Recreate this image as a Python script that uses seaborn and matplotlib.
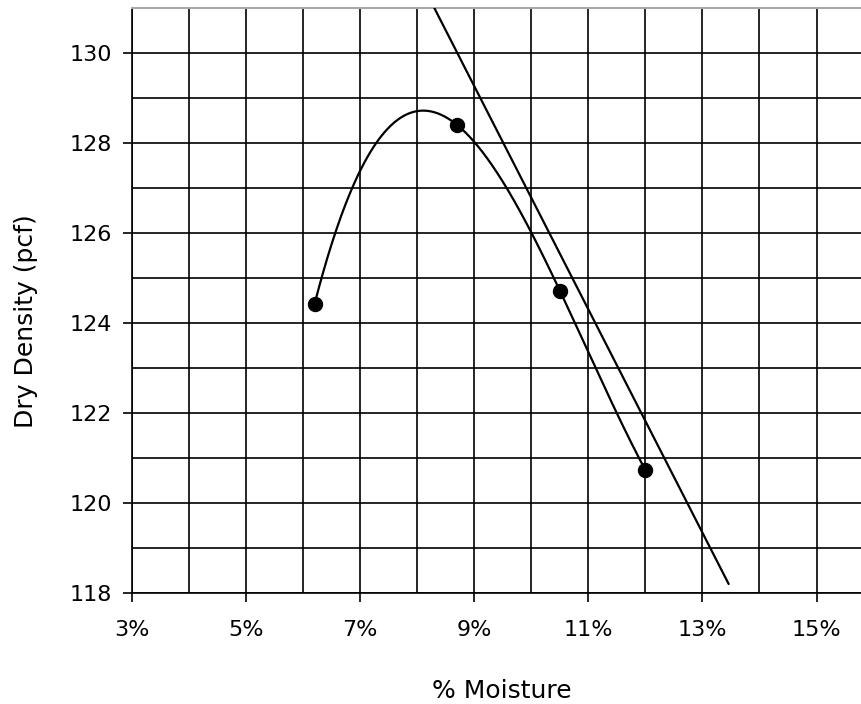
import numpy as np
import pandas as pd
import matplotlib
matplotlib.use("Agg")
import matplotlib.pyplot as plt
import seaborn as sns
from matplotlib.ticker import MultipleLocator, FuncFormatter

# Plot style
sns.set_style("white")
plt.rcParams['font.family'] = ['DejaVu Sans']
plt.rcParams['text.color'] = 'black'
plt.rcParams['axes.labelcolor'] = 'black'
plt.rcParams['xtick.color'] = 'black'
plt.rcParams['ytick.color'] = 'black'

# Compaction test points (% moisture vs dry density)
moisture = [6.2, 8.7, 10.5, 12.0]
dry_density = [124.42, 128.4, 124.72, 120.73]

# Zero air voids line end points
zav_moisture = [8.3, 13.46]
zav_density = [131.0, 118.2]

# 3rd order trendline through the test points
coef = np.polyfit(moisture, dry_density, 3)
fit_x = np.linspace(min(moisture), max(moisture), 300)
fit = pd.DataFrame({'moisture': fit_x, 'density': np.polyval(coef, fit_x)})

fig = plt.figure(figsize=(8.61, 7.04), dpi=100)
ax = fig.add_axes([132 / 861, 1 - 593 / 704, 1 - 132 / 861, 585 / 704])

sns.lineplot(data=fit, x='moisture', y='density', color='black', lw=1.6,
             sort=False, ax=ax, zorder=4)
sns.lineplot(x=zav_moisture, y=zav_density, color='black', lw=1.6, ax=ax, zorder=4)
sns.scatterplot(x=moisture, y=dry_density, color='black', s=105, marker='o',
                edgecolor='black', ax=ax, zorder=5)

ax.set_xlim(3, 15.78)
ax.set_ylim(118, 131)
ax.xaxis.set_major_locator(plt.FixedLocator([3, 5, 7, 9, 11, 13, 15]))
ax.xaxis.set_minor_locator(MultipleLocator(1))
ax.yaxis.set_major_locator(MultipleLocator(2))
ax.yaxis.set_minor_locator(MultipleLocator(1))
ax.xaxis.set_major_formatter(FuncFormatter(lambda v, p: f'{v:.0f}%'))

ax.grid(which='both', color='black', lw=1.2)
ax.set_axisbelow(True)

ax.tick_params(axis='x', which='major', length=6.5, width=1.2, color='black',
               labelsize=16, pad=13, direction='out', bottom=True)
ax.tick_params(axis='y', which='major', length=6.5, width=1.2, color='black',
               labelsize=16, pad=8, direction='out', left=True)
ax.tick_params(which='minor', length=0)

for side in ['left', 'bottom']:
    ax.spines[side].set_color('black')
    ax.spines[side].set_linewidth(1.2)
ax.spines['top'].set_color('#a8a8a8')
ax.spines['top'].set_linewidth(1.5)
ax.spines['right'].set_visible(False)

ax.set_xlabel('% Moisture', fontsize=18, va='center')
ax.xaxis.set_label_coords((502 - 132) / 729, -(691 - 593) / 585)
ax.set_ylabel('Dry Density (pcf)', fontsize=18, va='center')
ax.yaxis.set_label_coords((26 - 132) / 729, (593 - 321) / 585)

fig.savefig('out.png', dpi=100)
